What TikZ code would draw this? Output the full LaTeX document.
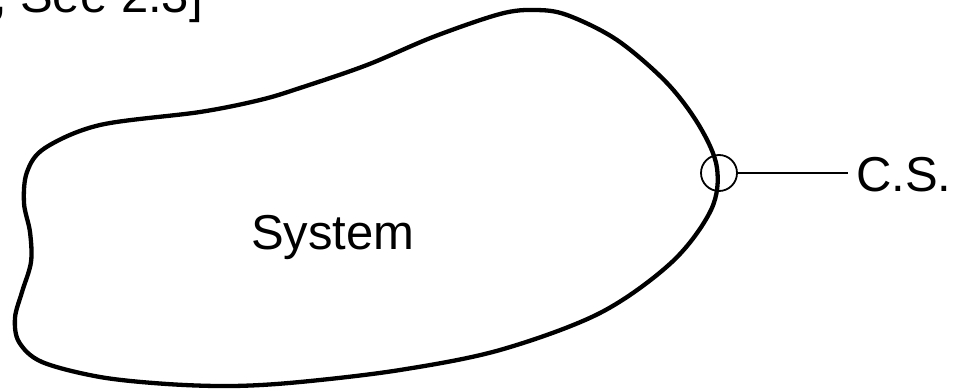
\documentclass[tikz,border=0pt]{standalone}
\usepackage{fontspec}
\setmainfont{Liberation Sans}
\begin{document}
\begin{tikzpicture}[x=1pt,y=-1pt,
  blob/.style={line width=4.3pt, line join=round},
  thin/.style={line width=1.8pt},
  bigtext/.style={font=\fontsize{49}{58}\selectfont, inner sep=0pt}]
\useasboundingbox (0,0) rectangle (953,390);
\draw[blob] plot[smooth cycle, tension=0.55] coordinates {
  (535,10) (567,15) (617,40) (667,83) (700,127) (717,168) (711,210)
  (672,262) (600,313) (500,350) (400,370) (300,382) (233,386) (167,384)
  (100,377) (42,362) (19,342) (15,318) (22,292) (31,262) (30,232)
  (24,203) (27,172) (45,148) (100,125) (200,112) (260,100) (300,88)
  (367,65) (433,37) (500,14)};
\node[bigtext, anchor=base east] (ref) at (203,13) {, See 2.3]};
\node[bigtext, anchor=base west] (sys) at (251,250) {System};
\node[draw, thin, circle, inner sep=0pt, minimum size=36pt] (cs) at (719,173) {};
\node[bigtext, anchor=west, inner xsep=8pt] (lbl) at (848,175) {C.S.};
\draw[thin] (cs.east) -- (cs.east -| lbl.west);
\end{tikzpicture}
\end{document}
